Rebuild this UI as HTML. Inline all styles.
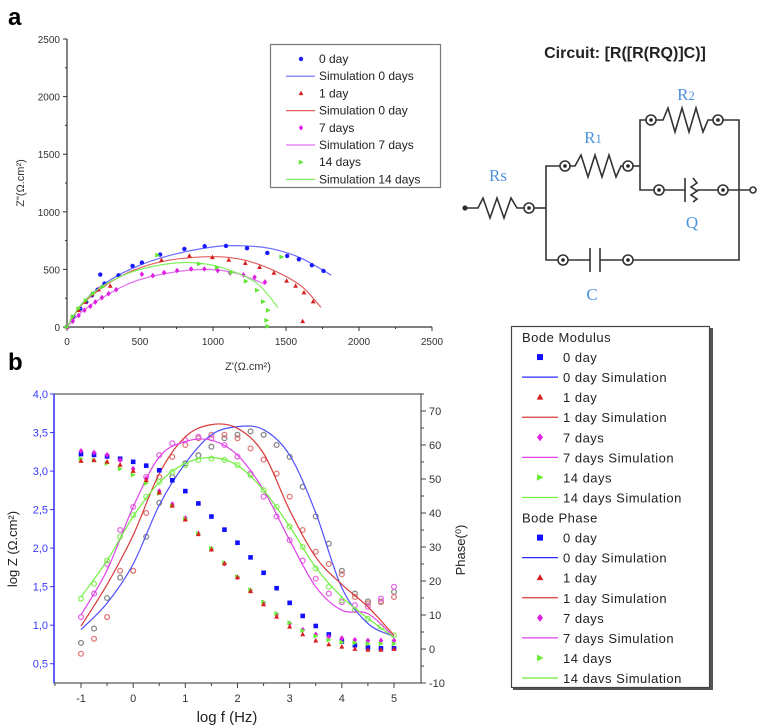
<!DOCTYPE html>
<html><head><meta charset="utf-8"><style>
body{margin:0;background:#fff}
svg{display:block;font-family:"Liberation Sans",sans-serif}
</style></head><body>
<svg id="fig" width="761" height="728" viewBox="0 0 761 728">
<text x="8" y="25" font-size="24" font-weight="bold">a</text>
<text x="8" y="370" font-size="24" font-weight="bold">b</text>
<g id="nyq"></g>
<g id="bode"></g>
<g id="circ" stroke="#333" stroke-width="1.6" fill="none">
<text x="625" y="58" font-size="16" font-weight="bold" fill="#222" stroke="none" text-anchor="middle">Circuit: [R([R(RQ)]C)]</text>
<circle cx="465" cy="208" r="1.8" fill="#222"/>
<polyline points="465,208 478,208 483,198 490,218 497,198 504,218 511,198 517,208 524,208"/>
<polyline points="534,208 546,208"/>
<polyline points="560,166 546,166 546,260 558,260"/>
<polyline points="570,166 575,166 581,155 588,177 595,155 602,177 609,155 616,177 621,166 623,166"/>
<polyline points="633,166 640,166"/>
<polyline points="646,120 640,120 640,190 654,190"/>
<polyline points="656,120 663,120 668,108 675,132 682,108 689,132 696,108 703,132 708,120 713,120"/>
<polyline points="723,120 739,120 739,260 633,260"/>
<path d="M664,190 L685,190 M685,178 L685,202 M693,178 L697,183 691,187 697,191 691,195 697,199 693,202 M697,190 L718,190 M728,190 L750,190"/>
<path d="M568,260 L590,260 M590,248 L590,272 M600,248 L600,272 M600,260 L623,260"/>
<circle cx="753" cy="190" r="3" fill="#fff"/>
<g fill="#fff">
<circle cx="529" cy="208" r="5"/><circle cx="565" cy="166" r="5"/><circle cx="628" cy="166" r="5"/>
<circle cx="651" cy="120" r="5"/><circle cx="718" cy="120" r="5"/><circle cx="659" cy="190" r="5"/>
<circle cx="723" cy="190" r="5"/><circle cx="563" cy="260" r="5"/><circle cx="628" cy="260" r="5"/>
</g>
<g fill="#222" stroke="none">
<circle cx="529" cy="208" r="1.8"/><circle cx="565" cy="166" r="1.8"/><circle cx="628" cy="166" r="1.8"/>
<circle cx="651" cy="120" r="1.8"/><circle cx="718" cy="120" r="1.8"/><circle cx="659" cy="190" r="1.8"/>
<circle cx="723" cy="190" r="1.8"/><circle cx="563" cy="260" r="1.8"/><circle cx="628" cy="260" r="1.8"/>
</g>
<g fill="#4f93dc" stroke="none" font-family="Liberation Serif,serif" font-size="17" text-anchor="middle">
<text x="498" y="181">Rs</text>
<text x="593" y="143">R<tspan font-size="13">1</tspan></text>
<text x="686" y="100">R<tspan font-size="13">2</tspan></text>
<text x="692" y="228">Q</text>
<text x="592" y="300">C</text>
</g>
</g>
<g id="bleg"></g>
</svg>
<script>
// ---------- Nyquist data ----------
const nyqTicks = [0, 500, 1000, 1500, 2000, 2500];
const nyqSeriesNames = ["0 day", "1 day", "7 days", "14 days"];
const nyqLegendLabels = ["0 day","Simulation 0 days","1 day","Simulation 0 day","7 days","Simulation 7 days","14 days","Simulation 14 days"];
const nyq0x = [0,46,91,132,171,210,228,257,353,449,513,638,804,943,1089,1233,1372,1508,1588,1677,1757];
const nyq0y = [0,87,159,217,275,324,455,377,449,530,559,629,678,701,704,684,643,617,588,536,487];
const nyq1x = [0,34,80,125,171,216,296,647,839,996,1108,1221,1319,1417,1504,1566,1623,1686,1614];
const nyq1y = [0,72,145,217,281,324,356,579,617,605,582,553,519,469,400,356,298,220,49];
const nyq7x = [0,40,80,120,160,194,239,285,337,513,588,665,754,850,941,1032,1117,1208,1285,1356];
const nyq7y = [0,50,100,145,180,217,255,290,324,458,446,472,490,504,504,490,469,452,432,391];
const nyq14x = [0,40,80,130,180,246,620,905,1028,1126,1226,1303,1344,1378,1367,1374,1470];
const nyq14y = [0,90,160,230,290,348,623,548,516,472,397,319,220,145,58,6,608];
const sim0x = [0,100,250,450,700,1000,1200,1400,1600,1810];
const sim0y = [0,200,370,510,620,695,705,680,600,450];
const sim1x = [0,100,250,450,700,1000,1200,1400,1600,1740];
const sim1y = [0,190,350,490,580,610,585,500,360,170];
const sim7x = [0,100,250,450,700,950,1150,1360];
const sim7y = [0,130,260,390,470,500,470,370];
const sim14x = [0,100,250,450,700,900,1100,1300,1445];
const sim14y = [0,200,360,480,550,555,500,380,170];

// ---------- Bode data ----------
const logF = [-1,-0.75,-0.5,-0.25,0,0.25,0.5,0.75,1,1.25,1.5,1.75,2,2.25,2.5,2.75,3,3.25,3.5,3.75,4,4.25,4.5,4.75,5];
const mod0 = [3.22,3.21,3.19,3.16,3.12,3.07,3.01,2.88,2.74,2.58,2.41,2.24,2.07,1.88,1.68,1.48,1.29,1.12,0.99,0.88,0.79,0.74,0.71,0.70,0.70];
const mod1 = [3.13,3.14,3.12,3.08,3.00,2.88,2.72,2.55,2.37,2.18,1.98,1.80,1.62,1.44,1.27,1.11,0.98,0.88,0.80,0.75,0.72,0.69,0.68,0.68,0.69];
const mod7 = [3.26,3.24,3.21,3.14,3.03,2.90,2.74,2.57,2.39,2.19,1.99,1.80,1.62,1.45,1.29,1.14,1.02,0.94,0.88,0.85,0.83,0.81,0.80,0.80,0.80];
const mod14 = [3.16,3.14,3.10,3.03,2.95,2.84,2.71,2.55,2.38,2.19,2.00,1.81,1.63,1.46,1.30,1.15,1.03,0.93,0.86,0.81,0.78,0.77,0.76,0.76,0.76];
const ph0 = [1.8,6,15,21,23,33,43,50.6,54.6,57,59.5,62,63,64,63,60,56.5,47.7,39,31,23,16.3,14,14,16.8];
const ph1 = [-1.4,3,9.4,23,23,40,50.6,56.5,60,62,63,63,62,59,55.7,51.6,44.8,35,28.6,25,22,15.3,13.4,13.8,15.3];
const ph7 = [9.4,16.3,25,35,41.8,50.6,57,60.5,61.4,62.4,62,60,56.6,51.6,44.8,39,32,26,20.7,16.3,13.8,12.9,12.4,14.8,18.3];
const ph14 = [14.8,19.2,26,33,39.4,44.8,49.2,52.1,54.1,55.6,56,55.6,54.1,51.1,46.7,41.8,36,30,23.7,18.3,14.3,11.4,8.9,6.5,4];
const simF = [-1,-0.5,0,0.5,1,1.5,2,2.5,3,3.5,4,4.5,5];
const phSim0 = [5.7,13.5,25,42.3,54.6,63,65.4,64.5,57,40,18,7.5,3.7];
const phSim1 = [6.7,19,33.5,51.6,62.4,66,64.9,57.5,40.8,27,19,12.4,4];
const phSim7 = [10,23.2,41.8,56.5,61,61.4,57,46.7,32,18.3,11.4,10.4,3.5];
const phSim14 = [15.3,26,39,49,54.6,56.3,54,46.7,36,24,15.3,9,3.5];
const leftTicks = ["0,5","1,0","1,5","2,0","2,5","3,0","3,5","4,0"];
const leftTickVals = [0.5,1,1.5,2,2.5,3,3.5,4];
const rightTicks = [-10,0,10,20,30,40,50,60,70];
const xTicks = [-1,0,1,2,3,4,5];
const bodeLegendLabels = ["Bode Modulus","0 day","0 day Simulation","1 day","1 day Simulation","7 days","7 days Simulation","14 days","14 days Simulation","Bode Phase","0 day","0 day Simulation","1 day","1 day Simulation","7 days","7 days Simulation","14 days","14 davs Simulation"];

const NS = "http://www.w3.org/2000/svg";
function mk(parent, tag, attrs, text){
  const e = document.createElementNS(NS, tag);
  for (const k in attrs) e.setAttribute(k, attrs[k]);
  if (text !== undefined) e.textContent = text;
  parent.appendChild(e); return e;
}
function smooth(pts){
  let d = "M" + pts[0][0].toFixed(1) + "," + pts[0][1].toFixed(1);
  for (let i = 0; i < pts.length - 1; i++){
    const p0 = pts[Math.max(0,i-1)], p1 = pts[i], p2 = pts[i+1], p3 = pts[Math.min(pts.length-1,i+2)];
    const c1 = [p1[0]+(p2[0]-p0[0])/6, p1[1]+(p2[1]-p0[1])/6];
    const c2 = [p2[0]-(p3[0]-p1[0])/6, p2[1]-(p3[1]-p1[1])/6];
    d += "C"+c1[0].toFixed(1)+","+c1[1].toFixed(1)+" "+c2[0].toFixed(1)+","+c2[1].toFixed(1)+" "+p2[0].toFixed(1)+","+p2[1].toFixed(1);
  }
  return d;
}
function marker(g, type, x, y, color, s){
  let e;
  if (type === "sq") e = mk(g, "rect", {x:x-s, y:y-s, width:2*s, height:2*s, fill:color});
  else if (type === "tri") e = mk(g, "polygon", {points:`${x},${y-s*1.2} ${x-s*1.1},${y+s*0.8} ${x+s*1.1},${y+s*0.8}`, fill:color});
  else if (type === "dia") e = mk(g, "polygon", {points:`${x},${y-s*1.3} ${x-s},${y} ${x},${y+s*1.3} ${x+s},${y}`, fill:color});
  else if (type === "rtri") e = mk(g, "polygon", {points:`${x-s},${y-s*1.1} ${x+s*1.2},${y} ${x-s},${y+s*1.1}`, fill:color});
  else if (type === "dot") e = mk(g, "circle", {cx:x, cy:y, r:s, fill:color});
  else e = mk(g, "circle", {cx:x, cy:y, r:s, fill:"none", stroke:color, "stroke-width":1.3});
  return e;
}

// ---------- Nyquist ----------
const ng = document.getElementById("nyq");
const nx = v => 67 + v/2500*365;
const ny = v => 327 - v/2500*288;
mk(ng, "line", {x1:67, y1:39, x2:67, y2:327, stroke:"#333", "stroke-width":1.2});
mk(ng, "line", {x1:67, y1:327, x2:432, y2:327, stroke:"#333", "stroke-width":1.2});
nyqTicks.forEach(t => {
  let e = mk(ng, "line", {x1:nx(t), y1:327, x2:nx(t), y2:331, stroke:"#333"});
  e = mk(ng, "text", {x:nx(t), y:345, "font-size":10, "text-anchor":"middle", fill:"#333"}, String(t));
  
  
  mk(ng, "line", {x1:63, y1:ny(t), x2:67, y2:ny(t), stroke:"#333"});
  e = mk(ng, "text", {x:60, y:ny(t)+4, "font-size":10, "text-anchor":"end", fill:"#333"}, String(t));
  
  
});
for (let t = 250; t < 2500; t += 500){
  mk(ng, "line", {x1:nx(t), y1:327, x2:nx(t), y2:329, stroke:"#333"});
  mk(ng, "line", {x1:65, y1:ny(t), x2:67, y2:ny(t), stroke:"#333"});
}
let tt = mk(ng, "text", {x:248, y:370, "font-size":11, "text-anchor":"middle", fill:"#333"}, "Z'(Ω.cm²)");


tt = mk(ng, "text", {x:0, y:0, "font-size":11, "text-anchor":"middle", fill:"#333", transform:"translate(24,183) rotate(-90)"}, 'Z"(Ω.cm²)');


const nyqSets = [
  [nyq0x, nyq0y, sim0x, sim0y, "#1a1aff", "#6c6cff", "dot"],
  [nyq1x, nyq1y, sim1x, sim1y, "#d81e1e", "#e06060", "tri"],
  [nyq7x, nyq7y, sim7x, sim7y, "#e01ee0", "#e070f0", "dia"],
  [nyq14x, nyq14y, sim14x, sim14y, "#5ee62e", "#80f060", "rtri"]
];
nyqSets.forEach((s, i) => {
  let p = mk(ng, "path", {d:smooth(s[2].map((v,j)=>[nx(v), ny(s[3][j])])), fill:"none", stroke:s[5], "stroke-width":1.2});
  
  
  s[0].forEach((v, j) => {
    const m = marker(ng, s[6], nx(v), ny(s[1][j]), s[4], 2.2);
    
    
  });
});
// Nyquist legend
let lb = mk(ng, "rect", {x:270.5, y:44.5, width:170, height:143, fill:"#fff", stroke:"#777", "stroke-width":1.2});


nyqLegendLabels.forEach((lab, i) => {
  const y = 59 + i*17.2;
  const s = nyqSets[Math.floor(i/2)];
  if (i % 2 === 0) marker(ng, s[6], 301, y, s[4], 2.2);
  else mk(ng, "line", {x1:286, y1:y, x2:315, y2:y, stroke:s[5], "stroke-width":1.2});
  const e = mk(ng, "text", {x:319, y:y+4, "font-size":12, fill:"#222"}, lab);
  
  
});

// ---------- Bode ----------
const bg = document.getElementById("bode");
const bx = v => 81 + (v + 1)/6*313;
const byL = v => 394 + (4 - v)/3.75*289;
const byR = v => 683 - (v + 10)/85*289;
mk(bg, "rect", {x:54, y:394, width:367, height:289, fill:"none", stroke:"#555", "stroke-width":1.2});
mk(bg, "line", {x1:54, y1:394, x2:54, y2:683, stroke:"#3a3aff", "stroke-width":1.5});
xTicks.forEach(t => {
  mk(bg, "line", {x1:bx(t), y1:683, x2:bx(t), y2:688, stroke:"#444"});
  if (t < 5) mk(bg, "line", {x1:bx(t+0.5), y1:683, x2:bx(t+0.5), y2:686, stroke:"#444"});
  const e = mk(bg, "text", {x:bx(t), y:702, "font-size":11, "text-anchor":"middle", fill:"#333"}, String(t));
  
  
});
mk(bg, "line", {x1:bx(-1.5), y1:683, x2:bx(-1.5), y2:686, stroke:"#444"});
leftTickVals.forEach((t, i) => {
  mk(bg, "line", {x1:50, y1:byL(t), x2:54, y2:byL(t), stroke:"#3a3aff"});
  const e = mk(bg, "text", {x:48, y:byL(t)+4, "font-size":11, "text-anchor":"end", fill:"#3a3aff"}, leftTicks[i]);
  
  
});
rightTicks.forEach(t => {
  mk(bg, "line", {x1:421, y1:byR(t), x2:426, y2:byR(t), stroke:"#444"});
  mk(bg, "line", {x1:421, y1:byR(t+5), x2:424, y2:byR(t+5), stroke:"#444"});
  const e = mk(bg, "text", {x:429, y:byR(t)+4, "font-size":11, fill:"#333"}, String(t));
  
  
});
tt = mk(bg, "text", {x:227, y:722, "font-size":15, "text-anchor":"middle", fill:"#222"}, "log f (Hz)");


tt = mk(bg, "text", {x:0, y:0, "font-size":13, "text-anchor":"middle", fill:"#222", transform:"translate(17,549) rotate(-90)"}, "log Z (Ω.cm²)");


tt = mk(bg, "text", {x:0, y:0, "font-size":13, "text-anchor":"middle", fill:"#222", transform:"translate(465,550) rotate(-90)"}, "Phase(⁰)");


const phSets = [
  [ph0, phSim0, "#888888", "#5050ff"],
  [ph1, phSim1, "#e07a7a", "#d83a3a"],
  [ph7, phSim7, "#e66ae6", "#e040e8"],
  [ph14, phSim14, "#8cf060", "#70ee40"]
];
phSets.forEach((s, i) => {
  s[0].forEach((v, j) => {
    const m = marker(bg, "open", bx(logF[j]), byR(v), s[2], 2.4);
    
    
  });
});
phSets.forEach((s, i) => {
  const p = mk(bg, "path", {d:smooth(simF.map((f,j)=>[bx(f), byR(s[1][j])])), fill:"none", stroke:s[3], "stroke-width":1.2});
  
  
});
const modSets = [[mod0,"#1010ff","sq"],[mod1,"#d81e1e","tri"],[mod7,"#e01ee0","dia"],[mod14,"#66ee33","rtri"]];
[modSets[0], modSets[2], modSets[3], modSets[1]].forEach(s => {
  s[0].forEach((v, j) => {
    const m = marker(bg, s[2], bx(logF[j]), byL(v), s[1], 2.3);
    
    
  });
});

// ---------- Bode legend ----------
const lg = document.getElementById("bleg");
mk(lg, "rect", {x:513, y:328, width:200, height:362, fill:"#555"});
mk(lg, "rect", {x:511.5, y:326.5, width:198, height:361, fill:"#fff", stroke:"#444", "stroke-width":1.2});
const legCols = ["#1010ff","#d81e1e","#e01ee0","#66ee33"];
const legSim = ["#2a2aff","#d83a3a","#e040e8","#70ee40"];
const legShape = ["sq","tri","dia","rtri"];
bodeLegendLabels.forEach((lab, i) => {
  const y = 337 + i*20.06;
  const k = i % 9;
  let x = 522;
  if (k > 0){
    const si = Math.floor((k-1)/2);
    if ((k-1) % 2 === 0){ marker(lg, legShape[si], 540, y, legCols[si], 3); x = 563; }
    else { mk(lg, "line", {x1:522, y1:y, x2:558, y2:y, stroke:legSim[si], "stroke-width":1.3}); x = 563; }
  }
  const e = mk(lg, "text", {x:x, y:y+5, "font-size":13, "letter-spacing":"0.5", fill:"#222"}, lab);
  
  
});
</script>
</body></html>
